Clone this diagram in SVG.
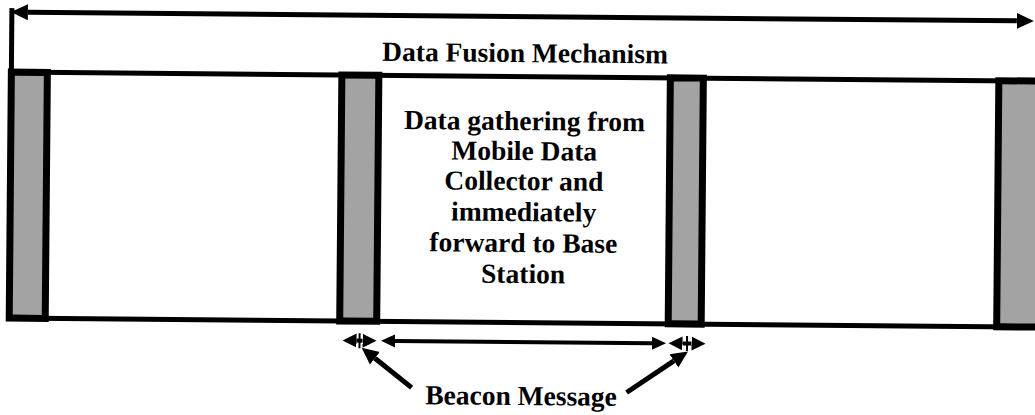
<svg xmlns="http://www.w3.org/2000/svg" width="1035" height="415" viewBox="0 0 1035 415">
<style>
.bar{fill:#a3a3a3;stroke:#000;stroke-width:7}
.ln{stroke:#000;fill:none}
.t{font-family:"Liberation Serif","Times New Roman",serif;font-weight:bold;font-size:27.5px;fill:#000;text-anchor:middle}
</style>
<defs>
<marker id="hBig" markerUnits="userSpaceOnUse" viewBox="0 -9 18 18" refX="0" refY="0" markerWidth="18" markerHeight="18" orient="auto-start-reverse">
<path d="M0,-8 L17,0 L0,8 z" fill="#000"/>
</marker>
<marker id="hMid" markerUnits="userSpaceOnUse" viewBox="0 -8 16 16" refX="0" refY="0" markerWidth="16" markerHeight="16" orient="auto-start-reverse">
<path d="M0,-6.5 L14,0 L0,6.5 z" fill="#000"/>
</marker>
<marker id="hSm" markerUnits="userSpaceOnUse" viewBox="0 -8 16 16" refX="0" refY="0" markerWidth="16" markerHeight="16" orient="auto-start-reverse">
<path d="M0,-7 L14,0 L0,7 z" fill="#000"/>
</marker>
</defs>
<rect width="1035" height="415" fill="#fff"/>
<g transform="rotate(0.5)">
<g id="frame">
<line class="ln" x1="10" y1="72" x2="1040" y2="72" stroke-width="5"/>
<line class="ln" x1="10" y1="318" x2="1040" y2="318" stroke-width="5"/>
</g>
<g id="slot1"><rect class="bar" x="12" y="72" width="36" height="246"/></g>
<g id="slot2"><rect class="bar" x="342.5" y="72" width="37" height="246"/></g>
<g id="slot3"><rect class="bar" x="671" y="72" width="33" height="246"/></g>
<g id="slot4"><rect class="bar" x="999.5" y="72" width="45" height="246"/></g>
<g id="title"><text class="t" x="525.5" y="57.5">Data Fusion Mechanism</text></g>
<g id="gather">
<text class="t" x="525.5" y="125.5">Data gathering from</text>
<text class="t" x="525.5" y="155.5">Mobile Data</text>
<text class="t" x="525.5" y="185.5">Collector and</text>
<text class="t" x="525.5" y="216.5">immediately</text>
<text class="t" x="525.5" y="247.5">forward to Base</text>
<text class="t" x="525.5" y="278.5">Station</text>
</g>
<g id="beacon"><text class="t" x="524.5" y="400.5">Beacon Message</text></g>
<g id="connectors">
<line class="ln" x1="12" y1="8" x2="12" y2="72" stroke-width="5"/>
<line class="ln" x1="28" y1="12" x2="1017" y2="12" stroke-width="5" marker-start="url(#hBig)" marker-end="url(#hBig)"/>
<line class="ln" x1="359.5" y1="337.5" x2="365.5" y2="337.5" stroke-width="4" marker-start="url(#hSm)" marker-end="url(#hSm)"/>
<line class="ln" x1="362.5" y1="330" x2="362.5" y2="345" stroke-width="2"/>
<line class="ln" x1="398" y1="337.5" x2="655" y2="337.5" stroke-width="4" marker-start="url(#hMid)" marker-end="url(#hMid)"/>
<line class="ln" x1="685.5" y1="337.5" x2="694.5" y2="337.5" stroke-width="4" marker-start="url(#hSm)" marker-end="url(#hSm)"/>
<line class="ln" x1="690" y1="330" x2="690" y2="345" stroke-width="2"/>
<line class="ln" x1="415" y1="384" x2="378" y2="355" stroke-width="5" marker-end="url(#hBig)"/>
<line class="ln" x1="630" y1="387" x2="677" y2="355" stroke-width="5" marker-end="url(#hBig)"/>
</g>
</g>
</svg>
